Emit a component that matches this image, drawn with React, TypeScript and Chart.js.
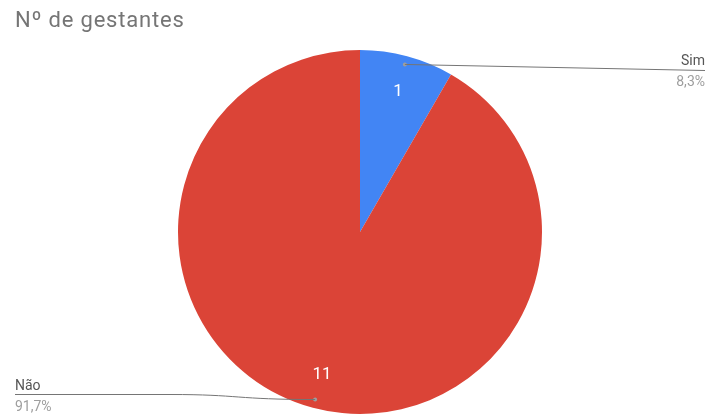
import React, { useEffect, useRef } from "react";
import { Chart, registerables } from "chart.js";

Chart.register(...registerables);

const title = "Nº de gestantes";
const categories = ["Sim", "Não"];
const values = [1, 11];
const percentLabels = ["8,3%", "91,7%"];
const colors = ["#4285F4", "#DB4437"];

const FONT = "Roboto, 'Noto Sans', sans-serif";

const labelPlugin = {
  id: "pieLabels",
  afterDraw(chart: any) {
    const ctx = chart.ctx as any;
    const meta = chart.getDatasetMeta(0);
    ctx.save();
    // title
    ctx.fillStyle = "#757575";
    ctx.font = `22px ${FONT}`;
    ctx.letterSpacing = "0.8px";
    ctx.textAlign = "left";
    ctx.textBaseline = "alphabetic";
    ctx.fillText(title, 15, 27);
    ctx.letterSpacing = "0px";

    meta.data.forEach((arc: any, i: number) => {
      const p = arc.getProps(["x", "y", "startAngle", "endAngle", "outerRadius"], true);
      const mid = (p.startAngle + p.endAngle) / 2;
      const R = p.outerRadius;
      // value label inside
      const lr = R * 0.805;
      const lx = p.x + Math.cos(mid) * lr;
      const ly = p.y + Math.sin(mid) * lr;
      ctx.fillStyle = "#ffffff";
      ctx.font = `17px ${FONT}`;
      ctx.textAlign = "center";
      ctx.textBaseline = "middle";
      ctx.fillText(String(values[i]), lx, ly + 1);

      // leader dot
      const dr = R * 0.953;
      const dx = p.x + Math.cos(mid) * dr;
      const dy = p.y + Math.sin(mid) * dr;
      ctx.fillStyle = "#9e9e9e";
      ctx.beginPath();
      ctx.arc(dx, dy, 2, 0, Math.PI * 2);
      ctx.fill();

      ctx.strokeStyle = "#757575";
      ctx.lineWidth = 1;
      ctx.beginPath();
      const right = Math.cos(mid) >= 0;
      ctx.font = `14px ${FONT}`;
      ctx.textBaseline = "alphabetic";
      if (right) {
        ctx.moveTo(dx, dy);
        ctx.lineTo(705, 70.5);
        ctx.stroke();
        ctx.textAlign = "right";
        ctx.fillStyle = "#555555";
        ctx.fillText(categories[i], 705, 65);
        ctx.fillStyle = "#9e9e9e";
        ctx.fillText(percentLabels[i], 705, 86);
      } else {
        ctx.moveTo(dx, dy);
        ctx.bezierCurveTo(dx - 80, dy, 240, 394.5, 170, 394.5);
        ctx.lineTo(15, 394.5);
        ctx.stroke();
        ctx.textAlign = "left";
        ctx.fillStyle = "#555555";
        ctx.fillText(categories[i], 15, 390);
        ctx.fillStyle = "#9e9e9e";
        ctx.fillText(percentLabels[i], 15, 411);
      }
    });
    ctx.restore();
  },
};

export default function App() {
  const ref = useRef<HTMLCanvasElement>(null);
  useEffect(() => {
    document.body.style.margin = "0";
    const chart = new Chart(ref.current!, {
      type: "pie",
      data: {
        labels: categories,
        datasets: [
          {
            data: values,
            backgroundColor: colors,
            borderWidth: 0,
          },
        ],
      },
      options: {
        animation: false,
        responsive: false,
        maintainAspectRatio: false,
        layout: { padding: { top: 50, bottom: 1, left: 178, right: 165 } },
        plugins: {
          legend: { display: false },
          title: { display: false },
          tooltip: { enabled: false },
        },
      },
      plugins: [labelPlugin],
    });
    return () => chart.destroy();
  }, []);
  return (
    <div style={{ position: "fixed", left: 0, top: 0, width: 707, height: 415, background: "#fff" }}>
      <canvas ref={ref} width={707} height={415} style={{ width: 707, height: 415, display: "block" }} />
    </div>
  );
}
